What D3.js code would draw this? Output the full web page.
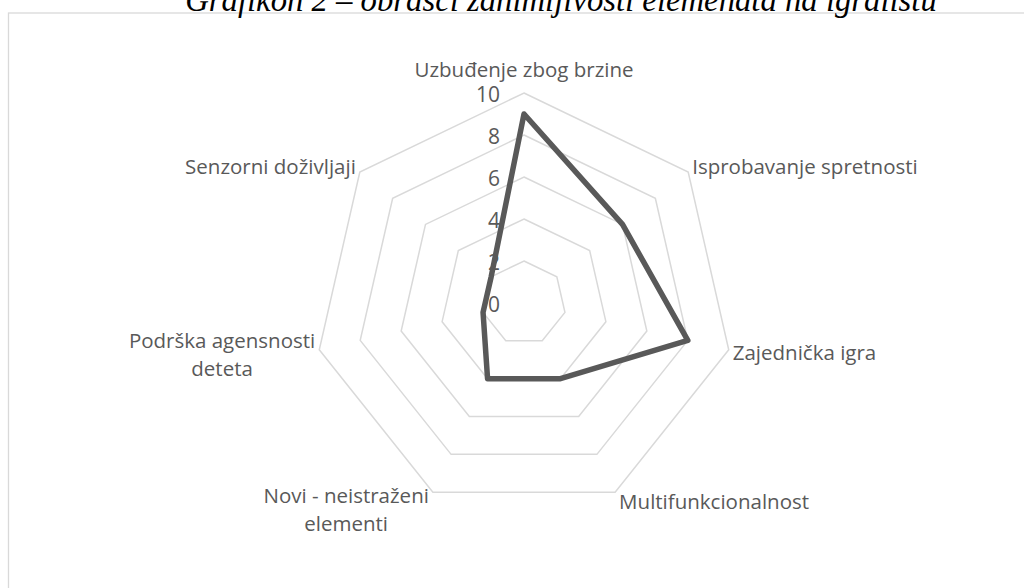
<!DOCTYPE html>
<html>
<head>
<meta charset="utf-8">
<script src="https://cdn.jsdelivr.net/npm/d3@7"></script>
<style>
  html, body { margin: 0; padding: 0; background: #fff; }
  svg { display: block; }
</style>
</head>
<body>
<svg id="chart" width="1024" height="588"></svg>
<script>
const title = "Grafikon 2 – obrasci zanimljivosti elemenata na igralištu"
const categories = [
    ["Uzbuđenje zbog brzine"],
    ["Isprobavanje spretnosti"],
    ["Zajednička igra"],
    ["Multifunkcionalnost"],
    ["Novi - neistraženi", "elementi"],
    ["Podrška agensnosti", "deteta"],
    ["Senzorni doživljaji"]
]
const values = [9, 6, 8, 4, 4, 2, 2]
const ticks = [0, 2, 4, 6, 8, 10]

const width = 1024
const height = 588
const cx = 524
const cy = 303
const radius = 210
const textColor = "#595959"
const gridColor = "#d9d9d9"
const font = "'Open Sans', sans-serif"

const svg = d3.select("#chart")

// frame of the chart area
svg.append("rect")
    .attr("x", 8.5).attr("y", 13)
    .attr("width", 1040).attr("height", 600)
    .attr("fill", "none").attr("stroke", gridColor).attr("stroke-width", 1.3)

// title, partly cut by the top of the picture (as in the source)
const titleText = svg.append("text")
    .attr("x", 561).attr("y", 11)
    .attr("text-anchor", "middle")
    .attr("font-family", "'Liberation Serif', serif")
    .attr("font-style", "italic")
    .attr("font-size", 28)
    .attr("fill", "#000")
    .text(title)
const tw = titleText.node().getComputedTextLength()
titleText.attr("font-size", 28 * 752 / tw)

const r = d3.scaleLinear().domain([0, 10]).range([0, radius])
const angle = d3.scaleLinear().domain([0, categories.length]).range([0, 2 * Math.PI])

const pointAt = (i, v) => [cx + r(v) * Math.sin(angle(i)), cy - r(v) * Math.cos(angle(i))]

const g = svg.append("g")

// rings
const rings = ticks.filter(t => t > 0)
g.selectAll("path.ring")
    .data(rings)
    .join("path")
    .attr("class", "ring")
    .attr("d", t => d3.line()(categories.map((c, i) => pointAt(i, t))) + "Z")
    .attr("fill", "none")
    .attr("stroke", gridColor)
    .attr("stroke-width", 1.5)

// series
g.append("path")
    .attr("d", d3.line()(values.map((v, i) => pointAt(i, v))) + "Z")
    .attr("fill", "none")
    .attr("stroke", "#595959")
    .attr("stroke-width", 5.5)
    .attr("stroke-linejoin", "round")

// tick labels
g.selectAll("text.tick")
    .data(ticks)
    .join("text")
    .attr("class", "tick")
    .attr("x", cx - 24)
    .attr("y", t => cy - r(t) + 2)
    .attr("dy", "0.35em")
    .attr("text-anchor", "end")
    .attr("font-family", font)
    .attr("font-size", 21)
    .attr("fill", textColor)
    .text(t => t)

// category labels
categories.forEach((lines, i) => {
    const [vx, vy] = pointAt(i, 10)
    const sx = Math.sin(angle(i))
    const sy = -Math.cos(angle(i))
    const lab = svg.append("text")
        .attr("text-anchor", "middle")
        .attr("font-family", font)
        .attr("font-size", 20.5)
        .attr("fill", textColor)
    lines.forEach((l, j) => {
        lab.append("tspan").attr("x", 0).attr("y", j * 28).text(l)
    })
    const b = lab.node().getBBox()
    let left, top
    if (Math.abs(sx) < 0.1) {
        left = vx - b.width / 2
        top = vy - 10 - b.height
    } else {
        left = sx > 0 ? vx + 4 : vx - 4 - b.width
        top = vy + sy * b.height / 3 - b.height / 2
    }
    lab.attr("transform", `translate(${left - b.x},${top - b.y})`)
})
</script>
</body>
</html>
